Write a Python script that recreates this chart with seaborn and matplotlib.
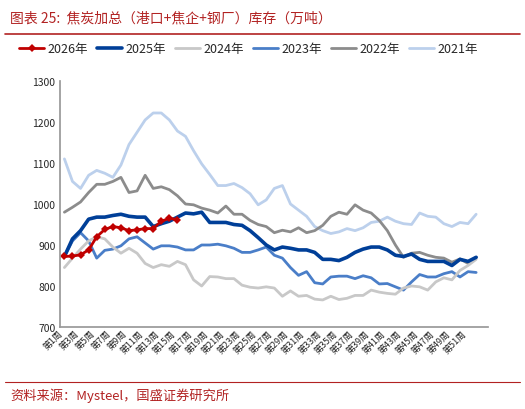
import matplotlib
matplotlib.use("Agg")
import matplotlib.pyplot as plt
import seaborn as sns
import pandas as pd

weeks = [f"第{i}周" for i in range(1, 53)]

y2026 = [872, 873, 876, 888, 920, 938, 945, 942, 935, 937, 940, 940, 958, 965, 962]
y2025 = [872, 915, 935, 963, 968, 968, 972, 975, 970, 968, 968, 945, 952, 958, 968, 978,
         976, 980, 955, 955, 955, 950, 948, 935, 918, 900, 888, 895, 892, 888, 888, 882,
         865, 865, 862, 870, 882, 890, 895, 895, 888, 875, 872, 878, 865, 860, 860, 860,
         850, 865, 860, 870]
y2024 = [845, 868, 890, 910, 920, 915, 895, 880, 892, 880, 855, 845, 852, 848, 860, 852,
         815, 800, 823, 822, 818, 818, 802, 797, 795, 798, 795, 775, 788, 775, 777, 768,
         766, 775, 767, 770, 777, 777, 790, 785, 782, 780, 795, 800, 798, 790, 810, 820,
         815, 838, 850, 865]
y2023 = [872, 910, 930, 910, 868, 887, 890, 898, 915, 920, 905, 890, 898, 898, 895, 888,
         888, 900, 900, 902, 898, 892, 882, 882, 888, 895, 875, 868, 845, 826, 835, 808,
         805, 822, 824, 824, 818, 825, 820, 805, 806, 798, 790, 810, 828, 822, 822, 830,
         835, 822, 835, 833]
y2022 = [980, 992, 1005, 1028, 1048, 1048, 1055, 1065, 1028, 1032, 1070, 1038, 1042, 1035,
         1020, 1000, 998, 990, 985, 978, 995, 975, 975, 960, 950, 945, 930, 936, 932, 942,
         930, 935, 948, 970, 980, 975, 998, 985, 978, 960, 935, 900, 870, 880, 882, 875,
         870, 868, 858, 866, 855, 870]
y2021 = [1110, 1055, 1038, 1070, 1082, 1075, 1065, 1095, 1145, 1175, 1205, 1222, 1222, 1205,
         1178, 1165, 1130, 1098, 1072, 1045, 1045, 1050, 1040, 1025, 998, 1010, 1038, 1045,
         1000, 985, 970, 945, 935, 928, 932, 940, 935, 942, 955, 958, 968, 958, 952, 950,
         978, 970, 968, 952, 945, 955, 952, 975]

series = {"2026年": y2026, "2025年": y2025, "2024年": y2024,
          "2023年": y2023, "2022年": y2022, "2021年": y2021}
colors = {"2026年": "#C00000", "2025年": "#003F98", "2024年": "#C8C8C8",
          "2023年": "#4A7EC8", "2022年": "#8C8C8C", "2021年": "#BCD0EC"}

df = pd.concat([pd.DataFrame({"week": range(len(v)), "value": v, "year": k})
                for k, v in series.items()])

sns.set_theme(style="white")
plt.rcParams["font.family"] = ["Noto Sans CJK SC", "DejaVu Sans"]

fig = plt.figure(figsize=(5.25, 4.10), dpi=100)
ax = fig.add_axes([0.115, 0.2, 0.815, 0.6])

# older years first so 2026 stays on top
for k in ["2021年", "2022年", "2023年", "2024年", "2025年"]:
    sns.lineplot(data=df[df.year == k], x="week", y="value", ax=ax, color=colors[k],
                 lw=2.6 if k == "2025年" else 2, label=k)
sns.lineplot(data=df[df.year == "2026年"], x="week", y="value", ax=ax, color=colors["2026年"],
             lw=2, marker="D", markersize=4.5, markeredgewidth=0, label="2026年")

ax.set_ylim(700, 1300)
ax.set_yticks(range(700, 1301, 100))
ax.set_xlim(-0.5, 52.5)
ax.set_xticks(range(0, 52, 2))
ax.set_xticklabels(weeks[::2], rotation=45, ha="right", fontsize=6.5)
ax.tick_params(axis="y", labelsize=7.5, length=0)
ax.tick_params(axis="x", length=0, pad=1)
ax.set_xlabel("")
ax.set_ylabel("")
for s in ["top", "right"]:
    ax.spines[s].set_visible(False)
ax.spines["left"].set_color("#999999")
ax.spines["bottom"].set_color("#999999")

handles, labels = ax.get_legend_handles_labels()
order = ["2026年", "2025年", "2024年", "2023年", "2022年", "2021年"]
hmap = dict(zip(labels, handles))
ax.legend([hmap[o] for o in order], order, ncol=6, frameon=False, fontsize=9,
          loc="lower center", bbox_to_anchor=(0.44, 1.06), handlelength=2.0,
          columnspacing=0.7, handletextpad=0.3)

fig.text(0.02, 0.955, "图表 25:  焦炭加总（港口+焦企+钢厂）库存（万吨）", fontsize=10,
         color="#B22222", style="italic", va="center")
fig.add_artist(plt.Line2D([0.01, 0.99], [0.915, 0.915], color="#B22222", lw=1.2))
fig.add_artist(plt.Line2D([0.01, 0.99], [0.065, 0.065], color="#B22222", lw=0.8))
fig.text(0.02, 0.035, "资料来源：Mysteel，国盛证券研究所", fontsize=9.5,
         color="#B22222", style="italic", va="center")

fig.savefig("out.png", dpi=100)
